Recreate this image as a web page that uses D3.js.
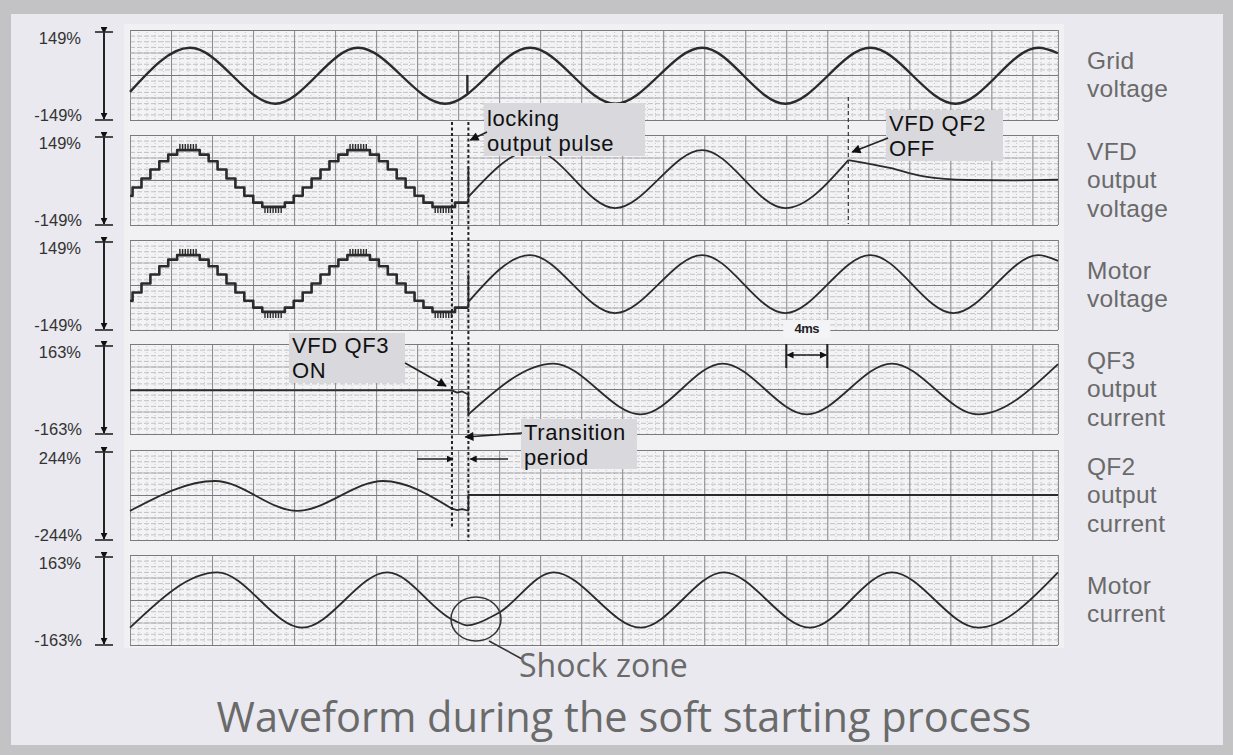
<!DOCTYPE html>
<html>
<head>
<meta charset="utf-8">
<script src="https://cdn.jsdelivr.net/npm/d3@7"></script>
<style>
  body { margin: 0; background: #fff; }
  svg { display: block; }
</style>
</head>
<body>
<svg id="chart"></svg>
<script>
// ---- data (time in ms, values in % of rated) ----
const panelNames = [
  ["Grid", "voltage"],
  ["VFD", "output", "voltage"],
  ["Motor", "voltage"],
  ["QF3", "output", "current"],
  ["QF2", "output", "current"],
  ["Motor", "current"]
];
const panelRange = [149, 149, 149, 163, 244, 163];

const gridVoltage = [[0, -56], [5.85, 90], [14.15, -95], [22.24, 90], [30.73, -95], [39.02, 90],
  [47.32, -95], [55.8, 90], [63.9, -95], [72.2, 90], [80.5, -95], [88.6, 90], [90.5, 72]];
const gridGlitch = [[32.9, -60], [32.9, 0]];

// VFD staircase output before the transfer (same on VFD output and motor)
const steppedVoltage = [[0, -52], [0.25, -25], [1.12, 5], [1.99, 35], [2.86, 62], [3.73, 84], [4.6, 99],
  [6.8, 84], [7.67, 62], [8.54, 35], [9.41, 5], [10.28, -25], [11.15, -52], [12.02, -75], [12.9, -89],
  [15.1, -75], [15.97, -52], [16.84, -25], [17.71, 5], [18.58, 35], [19.45, 62], [20.32, 84], [21.2, 99],
  [23.4, 84], [24.27, 62], [25.14, 35], [26.01, 5], [26.88, -25], [27.75, -52], [28.62, -75], [29.5, -89],
  [31.7, -75], [33.0, -75]];
const vfdPulse = [[33.0, -75], [33.0, 40], [33.0, -56]];
const vfdAfter = [[33.0, -56], [39.3, 99], [47.3, -93], [55.8, 99], [63.9, -93], [70.05, 66]];
const vfdDecay = [[70.05, 66], [74.1, 40], [77.4, 12], [81.7, 0], [86, -1], [90.5, 1]];

const motorPulse = [[33.0, -75], [33.0, 33], [33.0, -56]];
const motorVoltageAfter = [[33.0, -56], [39.0, 99], [47.3, -93], [55.8, 99], [63.9, -93], [72.2, 99],
  [80.3, -93], [88.6, 99], [90.5, 80]];

const qf3Before = [[0, -5], [31.4, -5], [31.9, -13], [32.4, -9], [32.9, -18], [33.0, -18], [33.0, -92]];
const qf3After = [[33.0, -92], [41.3, 92], [49.8, -92], [57.8, 92], [66.0, -92], [74.3, 92], [82.7, -92], [90.5, 90]];

const qf2Before = [[0, -86], [8.3, 76], [16.3, -86], [24.7, 76], [31.4, -74]];
const qf2After = [[31.4, -74], [31.9, -82], [32.4, -76], [32.9, -84], [33.0, -84], [33.0, 0], [90.5, 0]];

const motorCurrent = [[0, -100], [8.5, 100], [16.8, -100], [25.1, 100], [31.5, -72], [32.9, -92], [35.8, -50],
  [41.3, 100], [49.8, -100], [57.9, 100], [66.3, -100], [74.3, 100], [82.7, -100], [90.5, 100]];

const switchTimes = [31.4, 33.0];  // QF3 on / locking pulse
const qf2OffTime = 70.05;
const scaleMark = [64, 68];        // "4ms"

const traces = [
  [{ d: gridVoltage, c: "smooth" }, { d: gridGlitch, c: "linear" }],
  [{ d: steppedVoltage, c: "step" }, { d: vfdPulse, c: "linear" }, { d: vfdAfter, c: "smooth" }, { d: vfdDecay, c: "smooth" }],
  [{ d: steppedVoltage, c: "step" }, { d: motorPulse, c: "linear" }, { d: motorVoltageAfter, c: "smooth" }],
  [{ d: qf3Before, c: "linear" }, { d: qf3After, c: "smooth" }],
  [{ d: qf2Before, c: "smooth" }, { d: qf2After, c: "linear" }],
  [{ d: motorCurrent, c: "smooth" }]
];

// ---- layout ----
const width = 1233, height = 755;
const panelTop = [30, 135, 240, 344, 450, 555];
const panelH = 90;
const plotLeft = 130, plotRight = 1058;
const curves = { smooth: d3.curveMonotoneX, step: d3.curveStepAfter, linear: d3.curveLinear };
const labelFont = "'Liberation Sans', Arial, sans-serif";

const svg = d3.select("#chart").attr("width", width).attr("height", height)
  .style("font-family", "'Open Sans', 'Noto Sans', sans-serif");

const defs = svg.append("defs");
defs.append("marker").attr("id", "head").attr("viewBox", "0 0 10 10")
  .attr("refX", 9).attr("refY", 5).attr("markerWidth", 7).attr("markerHeight", 7)
  .attr("markerUnits", "userSpaceOnUse").attr("orient", "auto")
  .append("path").attr("d", "M0,0 L10,5 L0,10 z").attr("fill", "#111");
defs.append("marker").attr("id", "bighead").attr("viewBox", "0 0 10 10")
  .attr("refX", 9).attr("refY", 5).attr("markerWidth", 12).attr("markerHeight", 9)
  .attr("markerUnits", "userSpaceOnUse").attr("orient", "auto")
  .append("path").attr("d", "M0,0 L10,5 L0,10 z").attr("fill", "#111");

// frame and background
svg.append("rect").attr("width", width).attr("height", height).attr("fill", "#c3c3c6");
svg.append("rect").attr("x", 11).attr("y", 14).attr("width", 1212).attr("height", 731).attr("fill", "#e9e9ef");
svg.append("rect").attr("x", 124).attr("y", 24).attr("width", 940).attr("height", 624).attr("fill", "#f1f1f4");

const x = d3.scaleLinear().domain([0, 90.5]).range([plotLeft, plotRight]);
const innerW = plotRight - plotLeft;

// multi-line text as one element
function multiText(parent, x0, y0, lines, lh, size, fill, spacing) {
  const t = parent.append("text").attr("x", x0).attr("y", y0)
    .style("font-family", labelFont).style("font-size", size)
    .style("letter-spacing", spacing || "0px").attr("fill", fill);
  lines.forEach((s, k) => t.append("tspan").attr("x", x0).attr("dy", k === 0 ? 0 : lh).text(s));
  return t;
}

panelTop.forEach((top, i) => {
  const R = panelRange[i];
  const bot = top + panelH;
  const y = d3.scaleLinear().domain([-R, R]).range([bot, top]);
  const g = svg.append("g");

  g.append("rect").attr("x", plotLeft).attr("y", top).attr("width", innerW).attr("height", panelH)
    .attr("fill", "#f3f3f5");

  // minor grid
  g.append("g").attr("transform", `translate(${plotLeft},0)`)
    .call(d3.axisLeft(y).tickValues(d3.range(-R, R + 0.01, R / 8)).tickSize(-innerW).tickFormat(""))
    .call(a => a.select(".domain").remove())
    .selectAll("line").attr("stroke", "#acacb0").attr("stroke-width", 0.7).attr("stroke-dasharray", "5,2");
  g.append("g").attr("transform", `translate(0,${bot})`)
    .call(d3.axisBottom(x).tickValues(d3.range(0.8, 90.5, 0.8)).tickSize(-panelH).tickFormat(""))
    .call(a => a.select(".domain").remove())
    .selectAll("line").attr("stroke", "#bcbcc0").attr("stroke-width", 0.8).attr("stroke-dasharray", "1,2");
  // major grid
  g.append("g").attr("transform", `translate(0,${bot})`)
    .call(d3.axisBottom(x).tickValues(d3.range(0, 90.5, 4).concat([90.5])).tickSize(-panelH).tickFormat(""))
    .call(a => a.select(".domain").remove())
    .selectAll("line").attr("stroke", "#8a8a8e").attr("stroke-width", 1);
  g.append("g").attr("transform", `translate(${plotLeft},0)`)
    .call(d3.axisLeft(y).tickValues([-R, -R / 2, 0, R / 2, R]).tickSize(-innerW).tickFormat(""))
    .call(a => a.select(".domain").remove())
    .selectAll("line")
    .attr("stroke", d => (Math.abs(d) === R / 2 ? "#a4a4a8" : "#7a7a7e"))
    .attr("stroke-width", d => (Math.abs(d) === R / 2 ? 0.8 : 1.2));

  // traces
  traces[i].forEach(s => {
    const line = d3.line().x(d => x(d[0])).y(d => y(d[1])).curve(curves[s.c]);
    g.append("path").datum(s.d).attr("d", line).attr("fill", "none")
      .attr("stroke", "#2a2a2a")
      .attr("stroke-width", s.c === "step" ? 2.6 : (i === 0 ? 2.4 : 1.8))
      .attr("stroke-linejoin", "round");
    if (s.c === "step") {
      // chopping marks on the staircase crest and trough
      const hi = d3.max(s.d, d => d[1]), lo = d3.min(s.d, d => d[1]);
      s.d.forEach((d, k) => {
        if (k === s.d.length - 1 || (d[1] !== hi && d[1] !== lo)) return;
        const off = d[1] === hi ? -3 : 3;
        g.append("line")
          .attr("x1", x(d[0]) + 2).attr("x2", x(s.d[k + 1][0]) - 2)
          .attr("y1", y(d[1]) + off).attr("y2", y(d[1]) + off)
          .attr("stroke", "#2a2a2a").attr("stroke-width", 6).attr("stroke-dasharray", "1.4,1.3");
      });
    }
  });

  // left range bar and labels
  const bx = 104;
  g.append("line").attr("x1", bx).attr("x2", bx).attr("y1", top + 3).attr("y2", bot - 1)
    .attr("stroke", "#222").attr("stroke-width", 2)
    .attr("marker-start", "url(#head)").attr("marker-end", "url(#head)");
  [top + 2, bot].forEach(cy => {
    g.append("line").attr("x1", bx - 9).attr("x2", bx + 9).attr("y1", cy).attr("y2", cy)
      .attr("stroke", "#222").attr("stroke-width", 1.6);
  });
  g.append("text").attr("x", 81).attr("y", top + 14).attr("text-anchor", "end")
    .style("font-family", labelFont).style("font-size", "16.5px").attr("fill", "#333")
    .text(`${R}%`);
  g.append("text").attr("x", 82).attr("y", bot + 1).attr("text-anchor", "end")
    .style("font-family", labelFont).style("font-size", "16.5px").attr("fill", "#333")
    .text(`-${R}%`);

  // right names
  const names = panelNames[i];
  const lh = 28.5;
  const startY = top + panelH / 2 - (names.length - 1) * lh / 2 + 8;
  multiText(g, 1087, startY, names, lh, "24.5px", "#6a6a6a", "0.3px");
});

// ---- annotations ----
const ann = svg.append("g");
// dotted switch lines
ann.append("line").attr("x1", x(switchTimes[0])).attr("x2", x(switchTimes[0])).attr("y1", 122).attr("y2", 527)
  .attr("stroke", "#222").attr("stroke-width", 2).attr("stroke-dasharray", "3,2.5");
ann.append("line").attr("x1", x(switchTimes[1])).attr("x2", x(switchTimes[1])).attr("y1", 122).attr("y2", 541)
  .attr("stroke", "#222").attr("stroke-width", 2).attr("stroke-dasharray", "3,2.5");
ann.append("line").attr("x1", x(qf2OffTime)).attr("x2", x(qf2OffTime)).attr("y1", 97).attr("y2", 224)
  .attr("stroke", "#333").attr("stroke-width", 1.2).attr("stroke-dasharray", "4,3");

function box(x0, y0, w, h, lines, ly) {
  ann.append("rect").attr("x", x0).attr("y", y0).attr("width", w).attr("height", h).attr("fill", "#d8d8dd");
  multiText(ann, x0 + 3, ly, lines, 25, "22px", "#111", "0.6px");
}
function arrow(x1, y1, x2, y2, m) {
  ann.append("line").attr("x1", x1).attr("y1", y1).attr("x2", x2).attr("y2", y2)
    .attr("stroke", "#222").attr("stroke-width", 1.6).attr("marker-end", `url(#${m || "bighead"})`);
}

box(484, 103, 161, 53, ["locking", "output pulse"], 126);
arrow(487, 132, x(switchTimes[1]) + 2, 140);

box(886, 110, 117, 51, ["VFD QF2", "OFF"], 131);
arrow(888, 138, x(qf2OffTime) + 4, 152);

box(289, 333, 116, 50, ["VFD QF3", "ON"], 353);
arrow(405, 363, x(switchTimes[0]) - 6, 386);

box(521, 419, 116, 50, ["Transition", "period"], 440);
arrow(522, 433, x(switchTimes[1]) - 3, 437);
arrow(417, 459, x(switchTimes[0]) + 1, 459, "head");
arrow(508, 459, x(switchTimes[1]) + 2, 459, "head");

// 4 ms scale
const sx0 = x(scaleMark[0]), sx1 = x(scaleMark[1]);
ann.append("rect").attr("x", sx0 - 3).attr("y", 320).attr("width", sx1 - sx0 + 6).attr("height", 18).attr("fill", "#f4f4f6");
ann.append("text").attr("x", (sx0 + sx1) / 2).attr("y", 333).attr("text-anchor", "middle")
  .style("font-family", labelFont).style("font-size", "13px")
  .style("font-weight", "bold").style("letter-spacing", "-0.5px").attr("fill", "#222").text("4ms");
[sx0, sx1].forEach(v => {
  ann.append("line").attr("x1", v).attr("x2", v).attr("y1", 344).attr("y2", 368)
    .attr("stroke", "#222").attr("stroke-width", 2);
});
arrow((sx0 + sx1) / 2, 355, sx0 + 1, 355, "head");
arrow((sx0 + sx1) / 2, 355, sx1 - 1, 355, "head");

// shock zone
ann.append("ellipse").attr("cx", 476).attr("cy", 619).attr("rx", 25).attr("ry", 22)
  .attr("fill", "none").attr("stroke", "#333").attr("stroke-width", 1.5);
ann.append("line").attr("x1", 489).attr("y1", 641).attr("x2", 522).attr("y2", 659)
  .attr("stroke", "#333").attr("stroke-width", 1.5);
ann.append("text").attr("x", 519).attr("y", 677).style("font-size", "32px").attr("fill", "#6a6a6a").text("Shock zone");

// title
svg.append("text").attr("x", 624).attr("y", 732).attr("text-anchor", "middle")
  .style("font-size", "41.5px").attr("fill", "#6a6a6a").text("Waveform during the soft starting process");
</script>
</body>
</html>
